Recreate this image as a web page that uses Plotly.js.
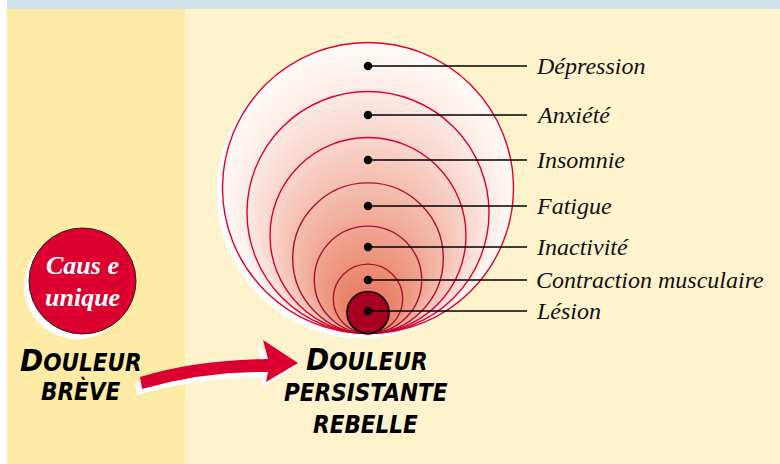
<!DOCTYPE html>
<html>
<head>
<meta charset="utf-8">
<script src="https://cdn.plot.ly/plotly-3.0.1.min.js"></script>
<style>html,body{margin:0;padding:0;background:#fff;}#chart{width:780px;height:464px;}</style>
</head>
<body>
<div id="chart"></div>
<script>
// ---- data ----
const labels = ['Dépression', 'Anxiété', 'Insomnie', 'Fatigue', 'Inactivité', 'Contraction musculaire', 'Lésion'];
const radii = [145.5, 121, 98, 75.3, 53.7, 34.7, 21];       // circle radii, outermost first
const labelY = [66, 115, 160, 206, 247, 280, 311];          // vertical position of each dot / label
const leftTitle = ['DOULEUR', 'BRÈVE'];
const rightTitle = ['DOULEUR', 'PERSISTANTE', 'REBELLE'];
const causeText = ['Caus e', 'unique'];

// ---- geometry / style ----
const CX = 368, BOTTOM = 333.5;
const ringColors = ['#e0002c', '#e0002c', '#d8002e', '#a8102e', '#a8102e', '#a8102e', '#000000'];
const shapes = [];
shapes.push({type:'rect', x0:0, x1:780, y0:0, y1:464, fillcolor:'#ffffff', line:{width:0}, layer:'below'});
shapes.push({type:'rect', x0:7, x1:185, y0:9, y1:464, fillcolor:'#fdeba6', line:{width:0}, layer:'below'});
shapes.push({type:'rect', x0:185, x1:780, y0:9, y1:464, fillcolor:'#fef3cc', line:{width:0}, layer:'below'});
shapes.push({type:'rect', x0:7, x1:780, y0:0, y1:9, fillcolor:'#cfe0ea', line:{width:0}, layer:'below'});

function circ(cx, bottom, r, fill, lineColor, lw, dx, dy) {
  return {type:'circle', xref:'x', yref:'y', x0:cx - r + (dx||0), x1:cx + r + (dx||0),
          y0:bottom - 2*r + (dy||0), y1:bottom + (dy||0), fillcolor:fill,
          line:{color:lineColor, width:lw}, layer:'below'};
}
shapes.push(circ(CX, BOTTOM, radii[0], '#ffffff', 'rgba(0,0,0,0)', 0, -6, 5));
const R0 = radii[0], N = 90;
const c0 = [255, 249, 247], c1 = [228, 100, 68];
for (let k = 0; k < N; k++) {
  const r = R0 * (1 - k / N);
  let t = k / N; t = Math.pow(t, 1.25);
  const c = c0.map((v, i) => Math.round(v + (c1[i] - v) * t));
  shapes.push(circ(CX, BOTTOM, r, `rgb(${c.join(',')})`, 'rgba(0,0,0,0)', 0));
}
radii.forEach((r, i) => {
  if (i === radii.length - 1) shapes.push(circ(CX, BOTTOM, r, '#a8001f', '#000000', 1.6));
  else shapes.push(circ(CX, BOTTOM, r, 'rgba(0,0,0,0)', ringColors[i], 1.4));
});

shapes.push({type:'circle', x0:24, x1:130, y0:233, y1:339, fillcolor:'#ffffff', line:{width:0}, layer:'below'});
shapes.push({type:'circle', x0:29, x1:136, y0:228, y1:334, fillcolor:'#dc0030', line:{color:'#222', width:1}, layer:'below'});

const arrowPath = (dx, dy) => {
  const p = (x, y) => `${x + dx},${y + dy}`;
  return `M ${p(140,377)} Q ${p(195,360)} ${p(268,359)} L ${p(263,340)} L ${p(298,363)} L ${p(266,382)} L ${p(268,372)} Q ${p(205,371)} ${p(142,389)} Z`;
};
shapes.push({type:'path', path:arrowPath(-5, 6), fillcolor:'#ffffff', line:{width:0}, layer:'below'});
shapes.push({type:'path', path:arrowPath(0, 0), fillcolor:'#dc0030', line:{width:0}, layer:'below'});

const lx = [], ly = [];
labelY.forEach(y => { lx.push(CX, 527, null); ly.push(y, y, null); });
const traces = [
  {type:'scatter', mode:'lines', x:lx, y:ly, line:{color:'#000', width:1.3}, hoverinfo:'skip', showlegend:false},
  {type:'scatter', mode:'markers', x:labelY.map(() => CX), y:labelY, marker:{color:'#000', size:8.5}, hoverinfo:'skip', showlegend:false}
];

const serif = 'Liberation Serif';
const brush = 'Liberation Sans Narrow, DejaVu Sans Condensed, Liberation Sans';
const annotations = labels.map((t, i) => ({
  x:534, y:labelY[i], xref:'x', yref:'y', xanchor:'left', yanchor:'middle', showarrow:false,
  text:`<i>${t}</i>`, font:{family:serif, size:24, color:'#111'}
}));
causeText.forEach((t, i) => annotations.push({
  x:82, y:[265, 297][i], xref:'x', yref:'y', xanchor:'center', yanchor:'middle', showarrow:false,
  text:`<b><i>${t}</i></b>`, font:{family:serif, size:26, color:'#ffffff'}
}));
function capsText(w) {
  return `<b><i><span style="font-size:31px">${w[0]}</span>${w.slice(1)}</i></b>`;
}
const bs = 24;
annotations.push({x:81, y:360, xref:'x', yref:'y', xanchor:'center', yanchor:'middle', showarrow:false,
  text:capsText(leftTitle[0]), font:{family:brush, size:bs, color:'#000'}});
annotations.push({x:81, y:391, xref:'x', yref:'y', xanchor:'center', yanchor:'middle', showarrow:false,
  text:`<b><i>${leftTitle[1]}</i></b>`, font:{family:brush, size:bs, color:'#000'}});
annotations.push({x:367, y:359, xref:'x', yref:'y', xanchor:'center', yanchor:'middle', showarrow:false,
  text:capsText(rightTitle[0]), font:{family:brush, size:bs, color:'#000'}});
annotations.push({x:366, y:393, xref:'x', yref:'y', xanchor:'center', yanchor:'middle', showarrow:false,
  text:`<b><i>${rightTitle[1]}</i></b>`, font:{family:brush, size:bs, color:'#000'}});
annotations.push({x:365, y:425, xref:'x', yref:'y', xanchor:'center', yanchor:'middle', showarrow:false,
  text:`<b><i>${rightTitle[2]}</i></b>`, font:{family:brush, size:bs, color:'#000'}});

const layout = {
  width:780, height:464, margin:{l:0, r:0, t:0, b:0, pad:0},
  paper_bgcolor:'#ffffff', plot_bgcolor:'rgba(0,0,0,0)',
  xaxis:{range:[0,780], visible:false, fixedrange:true},
  yaxis:{range:[464,0], visible:false, fixedrange:true},
  shapes, annotations, showlegend:false
};
Plotly.newPlot('chart', traces, layout, {displayModeBar:false, staticPlot:true});
</script>
</body>
</html>
